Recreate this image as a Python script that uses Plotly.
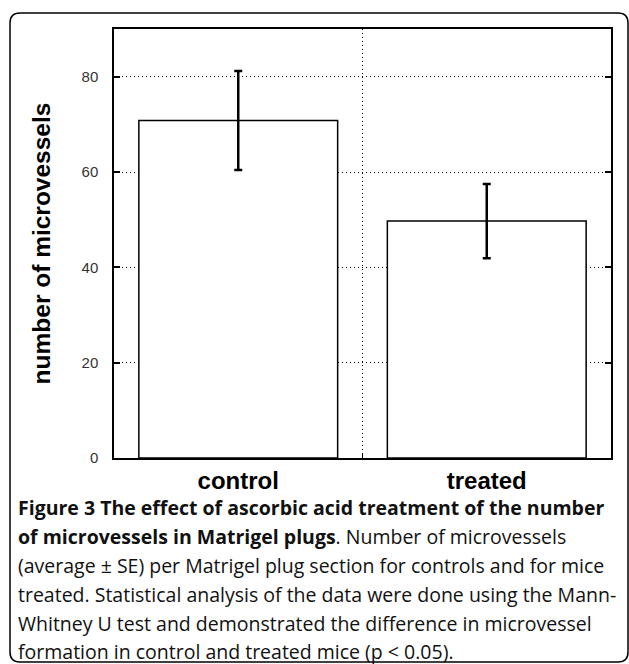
import plotly.graph_objects as go

# ---- data ----
categories = ["control", "treated"]
means = [70.8, 49.7]
errors = [10.4, 7.8]
y_ticks = [0, 20, 40, 60, 80]
y_range = [0, 90]
y_title = "number of microvessels"
caption_lines = [
    "<b>Figure 3 The effect of ascorbic acid treatment of the number</b>",
    "<b>of microvessels in Matrigel plugs</b>. Number of microvessels",
    "(average ± SE) per Matrigel plug section for controls and for mice",
    "treated. Statistical analysis of the data were done using the Mann-",
    "Whitney U test and demonstrated the difference in microvessel",
    "formation in control and treated mice (p &lt; 0.05).",
]

# ---- layout geometry (pixels) ----
W, H = 629, 664
L, R, T, B = 114, 611, 29, 458


def px(x):
    return (x - L) / (R - L)


def py(y):
    return (B - y) / (B - T)


fig = go.Figure(
    go.Bar(
        x=list(range(len(categories))),
        y=means,
        width=0.8,
        marker=dict(color="white", line=dict(color="black", width=1.5)),
        error_y=dict(type="data", array=errors, color="black", thickness=2.5, width=4),
        showlegend=False,
        hoverinfo="skip",
    )
)

fig.update_xaxes(
    range=[-0.5, len(categories) - 0.5],
    tickmode="array",
    tickvals=list(range(len(categories))),
    ticktext=categories,
    ticks="",
    showgrid=False,
    zeroline=False,
    showline=True,
    linecolor="black",
    linewidth=1.5,
    mirror=True,
    tickfont=dict(family="Liberation Sans", size=24, color="black", weight="bold"),
    ticklabelstandoff=0,
    minor=dict(
        tickmode="array",
        tickvals=[i + 0.5 for i in range(len(categories) - 1)],
        ticks="inside",
        ticklen=5,
        tickcolor="black",
        showgrid=True,
        griddash="1px,3px",
        gridcolor="black",
        gridwidth=1.2,
    ),
)

fig.update_yaxes(
    range=y_range,
    tickmode="array",
    tickvals=y_ticks,
    ticks="inside",
    ticklen=6,
    tickwidth=1.5,
    tickcolor="black",
    showline=True,
    linecolor="black",
    linewidth=1.5,
    mirror="ticks",
    zeroline=False,
    showgrid=True,
    griddash="1px,3px",
    gridcolor="black",
    gridwidth=1.2,
    tickfont=dict(family="Liberation Sans", size=15, color="#333"),
    ticklabelstandoff=11,
    title=dict(
        text=y_title,
        font=dict(family="Liberation Sans", size=24.5, color="black", weight="bold"),
        standoff=24,
    ),
)

annotations = []
line_y = [507, 536, 565, 594, 623, 651]
for txt, yy in zip(caption_lines, line_y):
    annotations.append(
        dict(
            text=txt,
            xref="paper",
            yref="paper",
            x=px(16),
            y=py(yy),
            xanchor="left",
            yanchor="middle",
            showarrow=False,
            align="left",
            font=dict(family="Open Sans", size=19.5, color="#111"),
        )
    )

# rounded border box
x0, x1, y0, y1, r = 10, 628, 13, 662, 10
path = (
    f"M {px(x0)},{py(y0 + r)} "
    f"Q {px(x0)},{py(y0)} {px(x0 + r)},{py(y0)} "
    f"L {px(x1 - r)},{py(y0)} "
    f"Q {px(x1)},{py(y0)} {px(x1)},{py(y0 + r)} "
    f"L {px(x1)},{py(y1 - r)} "
    f"Q {px(x1)},{py(y1)} {px(x1 - r)},{py(y1)} "
    f"L {px(x0 + r)},{py(y1)} "
    f"Q {px(x0)},{py(y1)} {px(x0)},{py(y1 - r)} Z"
)

fig.update_layout(
    width=W,
    height=H,
    margin=dict(l=L, r=W - R, t=T, b=H - B),
    paper_bgcolor="white",
    plot_bgcolor="white",
    annotations=annotations,
    shapes=[
        dict(
            type="path",
            path=path,
            xref="paper",
            yref="paper",
            line=dict(color="black", width=1.5),
            layer="below",
        )
    ],
)

fig.write_html(
    "out.html",
    config={"displayModeBar": False},
    post_script="document.body.style.margin='0px';document.body.style.padding='0px';",
)
